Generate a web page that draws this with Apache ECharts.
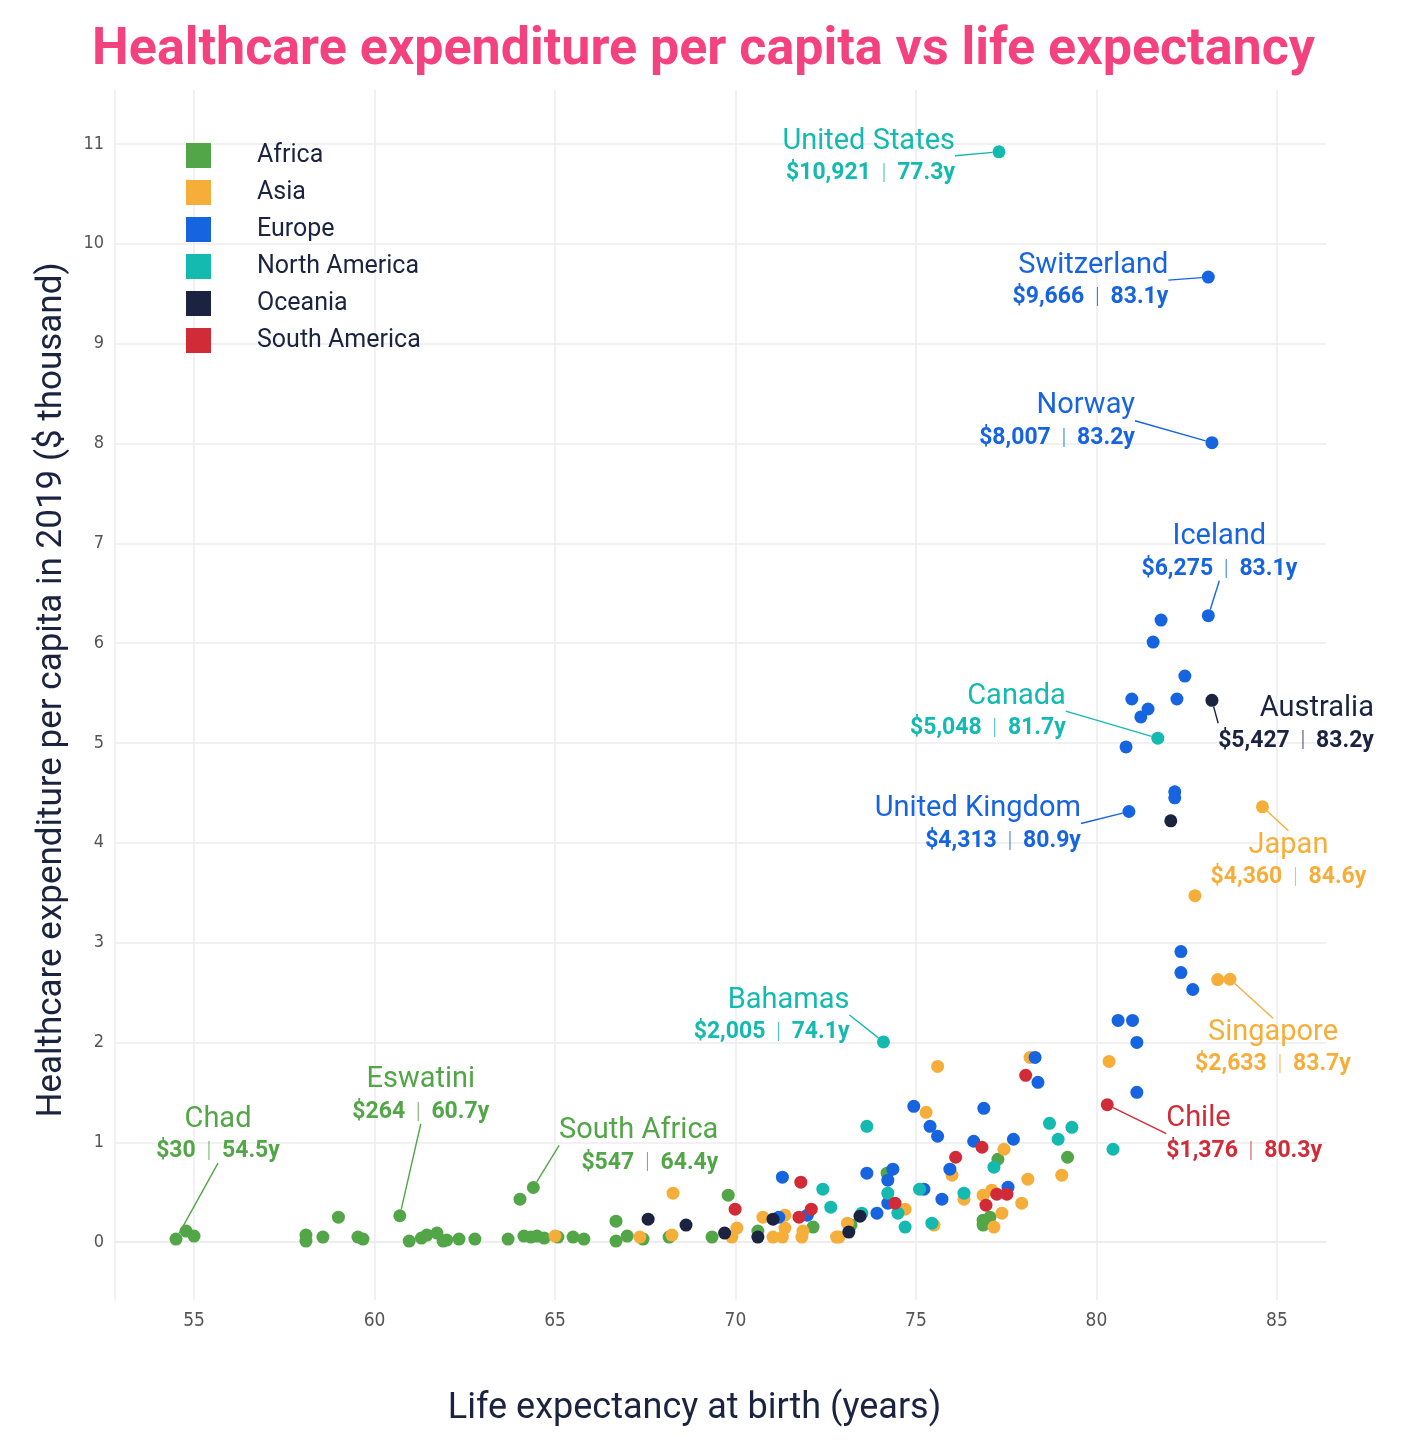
<!DOCTYPE html>
<html><head><meta charset="utf-8">
<script src="https://cdn.jsdelivr.net/npm/echarts@6/dist/echarts.min.js"></script>
<style>html,body{margin:0;padding:0;background:#fff}#c{width:1407px;height:1448px}</style>
</head><body><div id="c"></div>
<script>
// ---------------- DATA ----------------
const continents = ['Africa', 'Asia', 'Europe', 'North America', 'Oceania', 'South America'];

// Life expectancy (years) / healthcare spend per capita ($ thousand) / country labels ('' = unlabelled)
const africaLife  = [54.5, 60.7, 64.4, 54.78, 55.0, 58.1, 58.1, 58.57, 59.0, 59.54, 59.68, 60.96, 61.3, 61.45, 61.73, 61.9, 62.0, 62.34, 62.78, 63.7, 64.03, 64.14, 64.33, 64.5, 64.7, 65.08, 65.5, 65.8, 66.69, 66.69, 67.0, 67.44, 68.16, 69.35, 69.8, 70.62, 72.15, 73.2, 74.2, 77.27, 76.86, 77.05, 76.86, 79.2];
const africaSpend = [0.030, 0.264, 0.547, 0.11, 0.06, 0.07, 0.01, 0.05, 0.25, 0.05, 0.03, 0.01, 0.04, 0.07, 0.09, 0.01, 0.02, 0.03, 0.03, 0.03, 0.43, 0.06, 0.05, 0.06, 0.04, 0.05, 0.05, 0.03, 0.21, 0.01, 0.06, 0.03, 0.05, 0.05, 0.47, 0.11, 0.15, 0.17, 0.69, 0.83, 0.22, 0.25, 0.17, 0.85];
const africaNames = ['Chad', 'Eswatini', 'South Africa'];

const asiaLife  = [84.6, 83.7, 83.36, 82.73, 80.35, 78.16, 75.6, 75.28, 68.27, 65.0, 67.35, 68.24, 69.9, 70.04, 70.76, 71.04, 71.3, 71.37, 71.37, 71.84, 71.87, 72.8, 72.87, 73.1, 74.7, 76.0, 76.33, 75.5, 76.86, 77.1, 77.38, 77.44, 77.16, 77.93, 78.1, 79.04];
const asiaSpend = [4.360, 2.633, 2.63, 3.47, 1.81, 1.85, 1.76, 1.30, 0.49, 0.06, 0.05, 0.07, 0.05, 0.14, 0.25, 0.05, 0.05, 0.27, 0.14, 0.05, 0.11, 0.05, 0.05, 0.19, 0.33, 0.67, 0.43, 0.17, 0.47, 0.52, 0.29, 0.93, 0.15, 0.39, 0.63, 0.67];
const asiaNames = ['Japan', 'Singapore'];

const europeLife  = [83.1, 83.2, 83.1, 80.9, 81.79, 81.57, 82.45, 80.98, 82.23, 81.43, 81.23, 80.82, 82.17, 82.17, 82.34, 82.34, 82.67, 80.6, 81.0, 81.12, 81.12, 78.3, 78.38, 74.94, 75.39, 75.6, 76.88, 76.6, 77.7, 75.94, 73.64, 74.36, 74.22, 74.22, 75.22, 75.72, 73.92, 77.55, 71.3, 71.2, 71.99];
const europeSpend = [9.666, 8.007, 6.275, 4.313, 6.23, 6.01, 5.67, 5.44, 5.44, 5.34, 5.26, 4.96, 4.51, 4.45, 2.91, 2.70, 2.53, 2.22, 2.22, 2.00, 1.50, 1.85, 1.60, 1.36, 1.16, 1.06, 1.34, 1.01, 1.03, 0.73, 0.69, 0.73, 0.62, 0.39, 0.53, 0.43, 0.29, 0.55, 0.65, 0.25, 0.27];
const europeNames = ['Switzerland', 'Norway', 'Iceland', 'United Kingdom'];

const naLife  = [77.3, 81.7, 74.1, 80.46, 72.42, 72.64, 73.64, 73.5, 74.22, 74.5, 74.7, 75.1, 75.44, 76.33, 77.16, 78.7, 79.32, 78.94];
const naSpend = [10.921, 5.048, 2.005, 0.93, 0.53, 0.35, 1.16, 0.29, 0.49, 0.29, 0.15, 0.53, 0.19, 0.49, 0.75, 1.19, 1.15, 1.03];
const naNames = ['United States', 'Canada', 'Bahamas'];

const oceaniaLife  = [83.2, 82.06, 67.58, 68.63, 69.7, 70.62, 71.04, 73.14, 73.45];
const oceaniaSpend = [5.427, 4.22, 0.23, 0.17, 0.09, 0.05, 0.23, 0.10, 0.26];
const oceaniaNames = ['Australia'];

const saLife  = [80.3, 69.99, 71.81, 71.76, 72.1, 76.1, 76.83, 78.04, 76.94, 77.24, 77.52, 74.42];
const saSpend = [1.376, 0.33, 0.60, 0.25, 0.33, 0.85, 0.95, 1.67, 0.37, 0.48, 0.48, 0.39];
const saNames = ['Chile'];

const xTicks = [55, 60, 65, 70, 75, 80, 85];
const yTicks = [0, 1, 2, 3, 4, 5, 6, 7, 8, 9, 10, 11];

// ---------------- STYLE ----------------
const colors = ['#52a647', '#f6ae3b', '#1764e0', '#14b9b0', '#1c2340', '#d22b38'];
const ink = '#1c2340';
const FONT = 'Roboto, "Noto Sans", sans-serif';
// label anchor offset from point centre: [dx, dy, align]
const labelPlacement = {
  'United States': [-44, 5, 'right'],
  'Switzerland': [-40, 4, 'right'],
  'Norway': [-77, -21, 'right'],
  'Iceland': [11, -63, 'center'],
  'Canada': [-92, -26, 'right'],
  'Australia': [162, 24, 'right'],
  'United Kingdom': [-48, 13, 'right'],
  'Japan': [26, 54, 'center'],
  'Singapore': [43, 69, 'center'],
  'Bahamas': [-34, -26, 'right'],
  'Chile': [59, 30, 'left'],
  'South Africa': [185, -41, 'right'],
  'Eswatini': [21, -120, 'center'],
  'Chad': [42, -104, 'center']
};
const PAD = 6;

const lifeArr = [africaLife, asiaLife, europeLife, naLife, oceaniaLife, saLife];
const spendArr = [africaSpend, asiaSpend, europeSpend, naSpend, oceaniaSpend, saSpend];
const nameArr = [africaNames, asiaNames, europeNames, naNames, oceaniaNames, saNames];

function hexA(hex, a) {
  const n = parseInt(hex.slice(1), 16);
  return 'rgba(' + (n >> 16) + ',' + ((n >> 8) & 255) + ',' + (n & 255) + ',' + a + ')';
}

const series = continents.map(function (cont, si) {
  const col = colors[si];
  const data = lifeArr[si].map(function (x, i) {
    const y = spendArr[si][i];
    const nm = nameArr[si][i];
    const item = { value: [x, y] };
    if (nm) {
      const pl = labelPlacement[nm];
      const money = '$' + Math.round(y * 1000).toLocaleString('en-US');
      item.label = {
        show: true,
        padding: [3, PAD],
        align: pl[2],
        formatter: '{n|' + nm + '}\n{v|' + money + '}{s|  |  }{v|' + x.toFixed(1) + 'y}',
        rich: {
          n: { fontFamily: FONT, fontSize: 29, color: col, lineHeight: 33, align: pl[2] },
          v: { fontFamily: FONT, fontSize: 23, fontWeight: 'bold', color: col, lineHeight: 31, align: pl[2] },
          s: { fontFamily: FONT, fontSize: 22, fontWeight: 300, color: hexA(col, 0.8), lineHeight: 31, align: pl[2] }
        }
      };
      item.labelLine = { show: true, lineStyle: { color: col, width: 1.4 } };
    }
    return item;
  });
  return {
    name: cont,
    type: 'scatter',
    symbolSize: 13,
    itemStyle: { color: col, opacity: 1 },
    data: data,
    emphasis: { disabled: true },
    labelLayout: function (p) {
      const nm = nameArr[si][p.dataIndex];
      if (!nm) return {};
      const pl = labelPlacement[nm];
      const cx = p.rect.x + p.rect.width / 2;
      const cy = p.rect.y + p.rect.height / 2;
      const shift = pl[2] === 'right' ? PAD : (pl[2] === 'left' ? -PAD : 0);
      return { x: cx + pl[0] + shift, y: cy + pl[1], align: pl[2], verticalAlign: 'middle' };
    }
  };
});

const gridColor = '#ececec';
const chart = echarts.init(document.getElementById('c'), null, { renderer: 'canvas' });
chart.setOption({
  backgroundColor: '#ffffff',
  animation: false,
  title: {
    text: 'Healthcare expenditure per capita vs life expectancy',
    left: 'center', top: 20,
    textStyle: { fontFamily: FONT, fontSize: 52, fontWeight: 'bold', color: '#f4427f' }
  },
  legend: {
    orient: 'vertical', left: 186, top: 143, padding: 0,
    icon: 'rect', itemWidth: 25, itemHeight: 25, itemGap: 12,
    data: continents,
    textStyle: { fontFamily: FONT, fontSize: 25, color: ink, padding: [0, 0, 0, 41] }
  },
  grid: { left: 115, right: 81, top: 90, bottom: 148, containLabel: false, outerBoundsMode: 'none' },
  xAxis: {
    type: 'value', min: 52.81, max: 86.36,
    name: 'Life expectancy at birth (years)', nameLocation: 'middle', nameGap: 91,
    nameTextStyle: { fontFamily: FONT, fontSize: 36, color: ink, padding: [0, 52, 0, 0] },
    axisLine: { show: true, lineStyle: { color: gridColor, width: 1.5 } },
    axisTick: { show: false, customValues: xTicks },
    axisLabel: { customValues: xTicks, margin: 12, fontFamily: '"Liberation Sans Narrow", "DejaVu Sans Condensed", Roboto', fontSize: 19, color: '#555' },
    splitLine: { show: true, lineStyle: { color: gridColor, width: 1.5 } }
  },
  yAxis: {
    type: 'value', min: -0.58, max: 11.54,
    name: 'Healthcare expenditure per capita in 2019 ($ thousand)', nameLocation: 'middle', nameGap: 45,
    nameTextStyle: { fontFamily: FONT, fontSize: 35, color: ink, padding: [0, 0, 0, 10] },
    axisLine: { show: true, lineStyle: { color: gridColor, width: 1.5 } },
    axisTick: { show: false, customValues: yTicks },
    axisLabel: { customValues: yTicks, margin: 11, fontFamily: '"Liberation Sans Narrow", "DejaVu Sans Condensed", Roboto', fontSize: 18, color: '#555' },
    splitLine: { show: true, lineStyle: { color: gridColor, width: 1.5 } }
  },
  series: series
});
</script>
</body></html>
